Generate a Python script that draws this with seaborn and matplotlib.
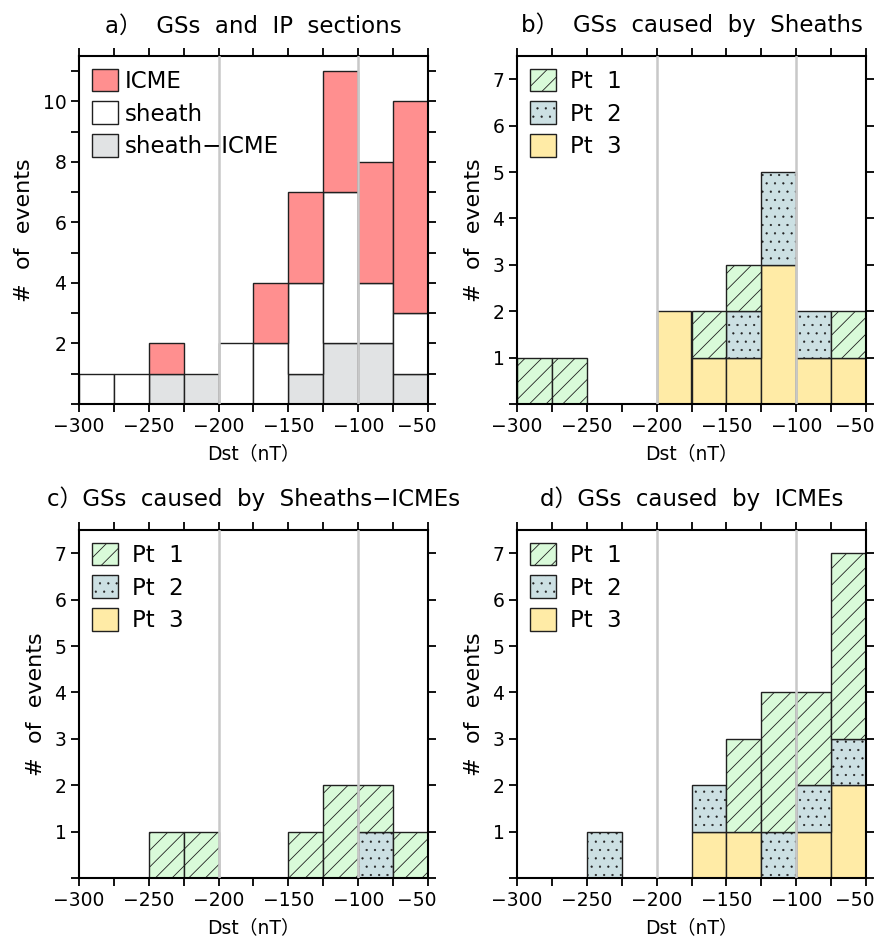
import numpy as np
import pandas as pd
import matplotlib
matplotlib.use("Agg")
import matplotlib.pyplot as plt
from matplotlib.patches import Patch
from matplotlib.ticker import FixedLocator, MultipleLocator, FuncFormatter
from matplotlib.colors import to_hex
from matplotlib.transforms import ScaledTranslation
import seaborn as sns

# ---------------- data ----------------
bin_edges = [-300, -275, -250, -225, -200, -175, -150, -125, -100, -75, -50]
bin_centers = [-287.5, -262.5, -237.5, -212.5, -187.5, -162.5, -137.5, -112.5, -87.5, -62.5]
x_ticks = [-300, -250, -200, -150, -100, -50]

a_icme = [0, 0, 1, 0, 0, 2, 3, 4, 4, 7]
a_sheath = [1, 1, 0, 0, 2, 2, 3, 5, 2, 2]
a_sheath_icme = [0, 0, 1, 1, 0, 0, 1, 2, 2, 1]

b_pt1 = [1, 1, 0, 0, 0, 1, 1, 0, 0, 1]
b_pt2 = [0, 0, 0, 0, 0, 0, 1, 2, 1, 0]
b_pt3 = [0, 0, 0, 0, 2, 1, 1, 3, 1, 1]

c_pt1 = [0, 0, 1, 1, 0, 0, 1, 2, 1, 1]
c_pt2 = [0, 0, 0, 0, 0, 0, 0, 0, 1, 0]
c_pt3 = [0, 0, 0, 0, 0, 0, 0, 0, 0, 0]

d_pt1 = [0, 0, 0, 0, 0, 0, 2, 3, 2, 4]
d_pt2 = [0, 0, 1, 0, 0, 1, 0, 1, 1, 1]
d_pt3 = [0, 0, 0, 0, 0, 1, 1, 0, 1, 2]

a_labels = ["ICME", "sheath", "sheath\u2212ICME"]
pt_labels = ["Pt  1", "Pt  2", "Pt  3"]

titles = ["a\uff09  GSs  and  IP  sections",
          "b\uff09  GSs  caused  by  Sheaths",
          "c\uff09GSs  caused  by  Sheaths\u2212ICMEs",
          "d\uff09GSs  caused  by  ICMEs"]
xlabel = "Dst\uff08nT\uff09"
ylabel = "#  of  events"

# ---------------- style ----------------
sns.set_style("ticks")
plt.rcParams["font.family"] = ["DejaVu Sans", "Noto Sans CJK JP"]
plt.rcParams["hatch.linewidth"] = 0.6
plt.rcParams["axes.unicode_minus"] = True
for k in ("text.color", "axes.labelcolor", "xtick.color", "ytick.color",
          "xtick.labelcolor", "ytick.labelcolor"):
    plt.rcParams[k] = "black"

a_colors = {a_labels[0]: "#FF8F8F", a_labels[1]: "#FFFFFF", a_labels[2]: "#E1E3E4"}
a_hatch = {a_labels[0]: "", a_labels[1]: "", a_labels[2]: ""}
pt_colors = {pt_labels[0]: "#D9FAD9", pt_labels[1]: "#CCE0E3", pt_labels[2]: "#FFEBA6"}
pt_hatch = {pt_labels[0]: "//", pt_labels[1]: "..", pt_labels[2]: ""}

EDGE = "#202020"


def make_df(labels, series):
    rows = []
    for lab, vals in zip(labels, series):
        for c, v in zip(bin_centers, vals):
            rows.append({"dst": c, "count": v, "cat": lab})
    return pd.DataFrame(rows)


def style_hatch(p, hatch):
    p.set_hatch(hatch)
    p.set_edgecolor(EDGE)
    if hasattr(p, "set_hatch_linewidth"):
        p.set_hatch_linewidth(0.35 if "." in hatch else 0.6)


fig = plt.figure(figsize=(8.79, 9.43), dpi=100)
W, H = 879.0, 943.0
boxes = [(79, 56, 428, 404), (517, 56, 866, 404), (79, 530, 428, 878), (517, 530, 866, 878)]
axes = []
for (l, t, r, b) in boxes:
    axes.append(fig.add_axes([l / W, 1 - b / H, (r - l) / W, (b - t) / H]))

panels = [
    (a_labels, [a_icme, a_sheath, a_sheath_icme], a_colors, a_hatch, 11.5, 2, 0.3),
    (pt_labels, [b_pt1, b_pt2, b_pt3], pt_colors, pt_hatch, 7.5, 1, 0.6),
    (pt_labels, [c_pt1, c_pt2, c_pt3], pt_colors, pt_hatch, 7.5, 1, 0.6),
    (pt_labels, [d_pt1, d_pt2, d_pt3], pt_colors, pt_hatch, 7.5, 1, 0.6),
]

for ax, title, (labels, series, colors, hatches, ymax, ystep, tpad) in zip(axes, titles, panels):
    df = make_df(labels, series)
    sns.histplot(data=df, x="dst", weights="count", hue="cat", hue_order=labels,
                 multiple="stack", bins=bin_edges, palette=colors,
                 edgecolor=EDGE, linewidth=1.0, alpha=1, legend=False, ax=ax)
    inv = {to_hex(v): k for k, v in colors.items()}
    for p in list(ax.patches):
        if p.get_height() <= 0:
            p.set_visible(False)
            continue
        lab = inv.get(to_hex(p.get_facecolor()))
        if lab is not None and hatches[lab]:
            style_hatch(p, hatches[lab])

    for xv in (-200, -100):
        ax.axvline(xv, color="#C8C8C8", lw=1.8, zorder=5)

    ax.set_xlim(-300, -50)
    ax.set_ylim(0, ymax)
    ax.xaxis.set_major_locator(FixedLocator(x_ticks))
    ax.xaxis.set_minor_locator(MultipleLocator(25))
    ax.xaxis.set_major_formatter(FuncFormatter(lambda v, p: f"{int(v)}".replace("-", "\u2212")))
    yt = list(range(0, int(ymax) + 1, ystep))
    ax.yaxis.set_major_locator(FixedLocator(yt))
    ax.yaxis.set_minor_locator(MultipleLocator(1))
    ax.yaxis.set_major_formatter(FuncFormatter(lambda v, p: "" if v == 0 else f"{int(v)}"))
    ax.tick_params(which="both", direction="out", top=True, right=True,
                   labeltop=False, labelright=False, width=1.3, color="black",
                   labelcolor="black")
    ax.tick_params(which="major", length=6, labelsize=13.5, pad=3)
    ax.tick_params(which="minor", length=6)
    for s in ax.spines.values():
        s.set_linewidth(1.5)
        s.set_color("black")
        s.set_visible(True)
    ax.set_xlabel(xlabel, fontsize=13.5, labelpad=6, color="black")
    ax.set_ylabel(ylabel, fontsize=16, labelpad=6, color="black")
    ax.set_title(title, fontsize=16.5, pad=17, color="black")

    handles = [Patch(facecolor=colors[l], edgecolor=EDGE, hatch=hatches[l], linewidth=1.0) for l in labels]
    leg = ax.legend(handles, labels, loc="upper left", frameon=False, fontsize=16.5,
                    handlelength=1.15, handleheight=1.15, handletextpad=tpad,
                    labelspacing=0.38, borderaxespad=0.35, borderpad=0.2)
    for lp, l in zip(leg.get_patches(), labels):
        if hatches[l]:
            style_hatch(lp, hatches[l])
    for t in leg.get_texts():
        t.set_color("black")

    # keep the right-most tick label inside the panel edge (as in the reference)
    ticks = ax.xaxis.get_major_ticks()
    last = ticks[len(x_ticks) - 1].label1
    last.set_horizontalalignment("right")
    last.set_transform(last.get_transform() + ScaledTranslation(6 / 72, 0, fig.dpi_scale_trans))

fig.savefig("out.png", dpi=100)
